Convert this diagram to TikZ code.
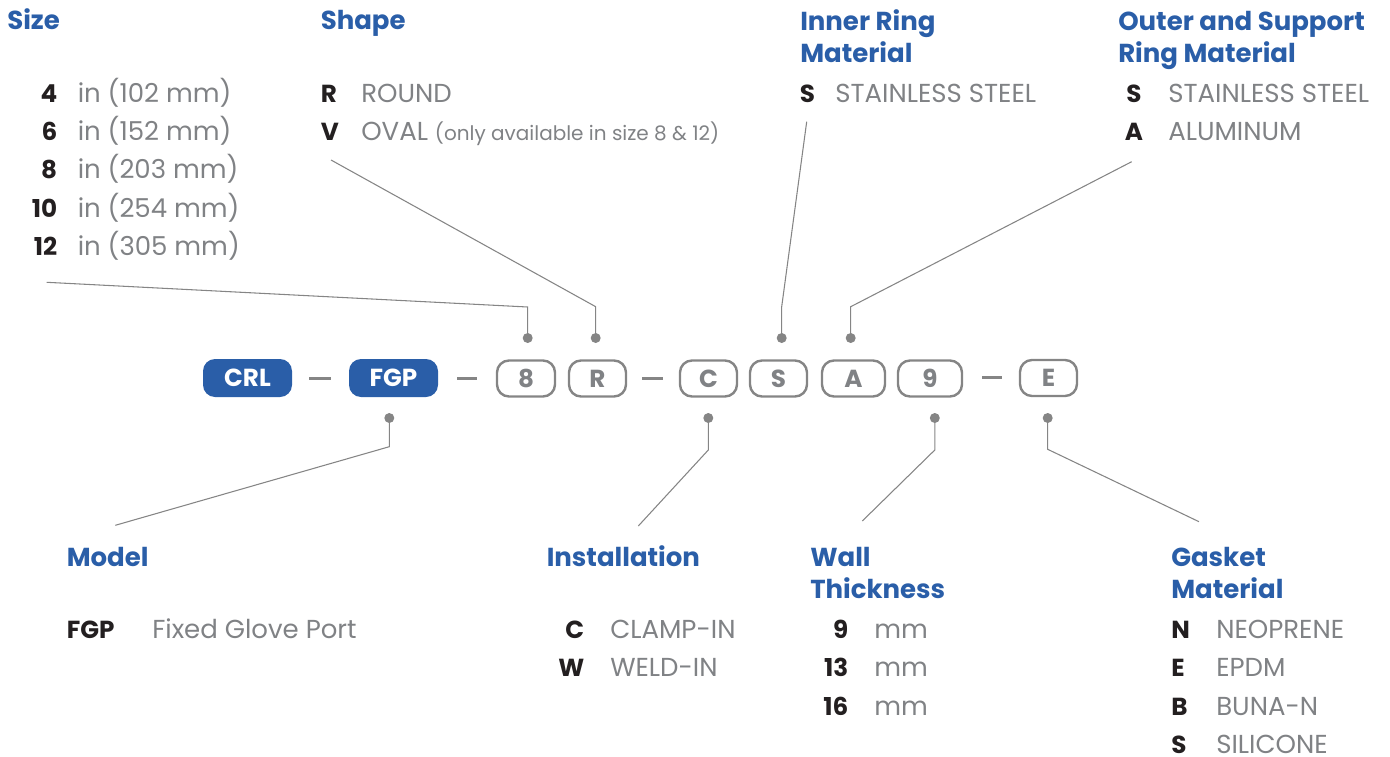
\documentclass[tikz,border=0pt]{standalone}
\usepackage{fontspec}
\setmainfont{Poppins}
\definecolor{hblue}{HTML}{2A5EA8}
\definecolor{tgray}{HTML}{808285}
\definecolor{kblack}{HTML}{231F20}
\definecolor{lgray}{HTML}{858585}
\newcommand\fhead{\fontsize{19.5pt}{23pt}\selectfont\bfseries}
\newcommand\fbody{\fontsize{19.5pt}{22pt}\selectfont}
\newcommand\fsmall{\fontsize{15pt}{16pt}\selectfont}
\newcommand\fcode{\fontsize{18.5pt}{22pt}\selectfont\bfseries}
\begin{document}
\begin{tikzpicture}[x=0.75pt,y=-0.75pt,
  head/.style={anchor=base west, inner sep=0, text=hblue, font=\fhead},
  keyw/.style={anchor=base west, inner sep=0, text=kblack, font=\fcode},
  keye/.style={anchor=base east, inner sep=0, text=kblack, font=\fcode},
  keyc/.style={anchor=base, inner sep=0, text=kblack, font=\fcode},
  desc/.style={anchor=base west, inner sep=0, text=tgray, font=\fbody},
  codeblue/.style={rounded corners=9pt, fill=hblue, text=white, font=\fcode, minimum height=28.5pt, minimum width=#1*0.75pt, inner sep=0},
  codegray/.style={rounded corners=9pt, draw=lgray, line width=1.8pt, text=tgray, font=\fcode, minimum height=27pt, minimum width=#1*0.75pt, inner sep=0},
  dot/.style={circle, fill=lgray, inner sep=0, minimum size=7.5pt},
  leader/.style={draw=lgray, line width=0.8pt},
  sep/.style={draw=lgray, line width=2pt}]
\useasboundingbox (0,0) rectangle (1390,757);

% ---- code boxes
\node[codeblue=89] (bCRL) at (247.5,378) {CRL};
\node[codeblue=89] (bFGP) at (393.5,378) {FGP};
\node[codegray=58] (b8) at (526,378.5) {8};
\node[codegray=57] (bR) at (597.5,378.5) {R};
\node[codegray=57] (bC) at (708.5,378.5) {C};
\node[codegray=57] (bS) at (778.5,378.5) {S};
\node[codegray=63] (bA) at (853.5,378.5) {A};
\node[codegray=64] (b9) at (930,378.5) {9};
\node[codegray=57] (bE) at (1048.5,378) {E};

% ---- separators
\draw[sep] (309,378.7) -- (331,378.7);
\draw[sep] (457,378.7) -- (477,378.7);
\draw[sep] (642,378.7) -- (663,378.7);
\draw[sep] (982,377.5) -- (1002,377.5);

% ---- headings
\node[head] (hSize) at (7,29.5) {Size};
\node[head] (hShape) at (320.5,29.5) {Shape};
\node[head] (hInner1) at (800,30) {Inner Ring};
\node[head] (hInner2) at (800,62) {Material};
\node[head] (hOuter1) at (1118,30) {Outer and Support};
\node[head] (hOuter2) at (1118,62) {Ring Material};
\node[head] (hModel) at (66.5,566) {Model};
\node[head] (hInst) at (546.5,566) {Installation};
\node[head] (hWall1) at (810,566) {Wall};
\node[head] (hWall2) at (810,598) {Thickness};
\node[head] (hGas1) at (1171,566) {Gasket};
\node[head] (hGas2) at (1171,598) {Material};

% ---- size
\node[keye] (k4) at (57.5,102) {4};
\node[desc] (t4) at (77.5,102) {in (102 mm)};
\node[keye] (k6) at (57.5,140) {6};
\node[desc] (t6) at (77.5,140) {in (152 mm)};
\node[keye] (k8) at (57.5,178.5) {8};
\node[desc] (t8) at (77.5,178.5) {in (203 mm)};
\node[keye] (k10) at (57.5,217) {10};
\node[desc] (t10) at (77.5,217) {in (254 mm)};
\node[keye] (k12) at (57.5,255.5) {12};
\node[desc] (t12) at (77.5,255.5) {in (305 mm)};

% ---- shape
\node[keyw] (kR) at (320.5,102) {R};
\node[desc] (tR) at (361,102) {ROUND};
\node[keyw] (kV) at (320.5,140) {V};
\node[desc] (tV) at (361,140) {OVAL {\fsmall (only available in size 8 \& 12)}};

% ---- inner ring
\node[keyw] (kIS) at (799.5,102) {S};
\node[desc] (tIS) at (835,102) {STAINLESS STEEL};

% ---- outer ring
\node[keyc] (kOS) at (1134,102) {S};
\node[desc] (tOS) at (1168,102) {STAINLESS STEEL};
\node[keyc] (kOA) at (1134,140) {A};
\node[desc] (tOA) at (1168,140) {ALUMINUM};

% ---- model
\node[keyw] (kFGP) at (66.5,638.5) {FGP};
\node[desc] (tFGP) at (152,638.5) {Fixed Glove Port};

% ---- installation
\node[keye] (kC) at (584.5,638.5) {C};
\node[desc] (tC) at (610,638.5) {CLAMP-IN};
\node[keye] (kW) at (584.5,676.5) {W};
\node[desc] (tW) at (610,676.5) {WELD-IN};

% ---- wall thickness
\node[keye] (k9) at (848.5,638.5) {9};
\node[desc] (t9) at (874,638.5) {mm};
\node[keye] (k13) at (848.5,676.5) {13};
\node[desc] (t13) at (874,676.5) {mm};
\node[keye] (k16) at (848.5,715.5) {16};
\node[desc] (t16) at (874,715.5) {mm};

% ---- gasket
\node[keyw] (kN) at (1171,638.5) {N};
\node[desc] (tN) at (1216,638.5) {NEOPRENE};
\node[keyw] (kE) at (1171,676.5) {E};
\node[desc] (tE) at (1216,676.5) {EPDM};
\node[keyw] (kB) at (1171,715.5) {B};
\node[desc] (tB) at (1216,715.5) {BUNA-N};
\node[keyw] (kS) at (1171,753) {S};
\node[desc] (tS) at (1216,753) {SILICONE};

% ---- dots
\node[dot] (d8) at (527.7,338) {};
\node[dot] (dR) at (595.7,338) {};
\node[dot] (dS) at (781.7,338) {};
\node[dot] (dA) at (850.7,338) {};
\node[dot] (dF) at (389.3,418) {};
\node[dot] (dC) at (708.3,418) {};
\node[dot] (d9) at (934.8,418) {};
\node[dot] (dE) at (1047.7,418) {};

% ---- leader end and bend points
\coordinate (eSize) at (46.7,282.3);
\coordinate (c8) at (527.7,307);
\coordinate (eShape) at (331,160);
\coordinate (cR) at (595.7,306.7);
\coordinate (eInner) at (806.7,121.7);
\coordinate (cS) at (781.7,306.7);
\coordinate (eOuter) at (1131.7,161.7);
\coordinate (cA) at (850.7,306.7);
\coordinate (eModel) at (115.3,525.3);
\coordinate (cF) at (389.3,446.7);
\coordinate (eInst) at (638.3,526);
\coordinate (cC) at (708.3,450);
\coordinate (eWall) at (862.3,521);
\coordinate (c9) at (934.8,450);
\coordinate (eGas) at (1199,521.7);
\coordinate (cE) at (1047.7,449.3);

% ---- leaders
\draw[leader] (eSize) -- (c8) -- (d8.center);
\draw[leader] (eShape) -- (cR) -- (dR.center);
\draw[leader] (eInner) -- (cS) -- (dS.center);
\draw[leader] (eOuter) -- (cA) -- (dA.center);
\draw[leader] (eModel) -- (cF) -- (dF.center);
\draw[leader] (eInst) -- (cC) -- (dC.center);
\draw[leader] (eWall) -- (c9) -- (d9.center);
\draw[leader] (eGas) -- (cE) -- (dE.center);
\end{tikzpicture}
\end{document}
